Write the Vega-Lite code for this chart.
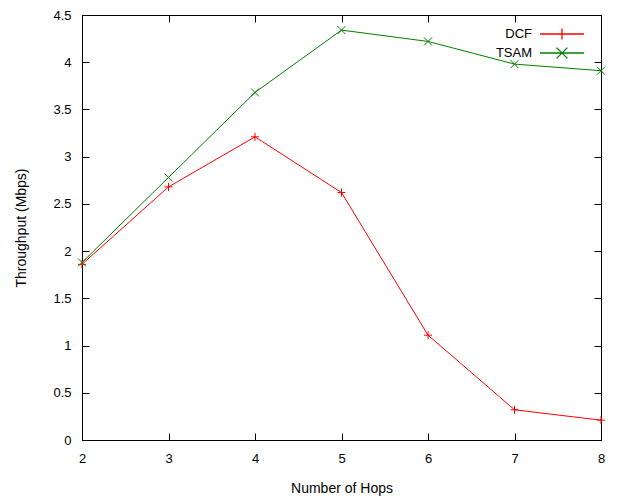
{
  "$schema": "https://vega.github.io/schema/vega-lite/v6.json",
  "autosize": {"type": "none"},
  "padding": {"left": 82, "top": 15, "right": 16, "bottom": 56},
  "width": 519,
  "height": 425,
  "background": "white",
  "config": {
    "font": "Liberation Sans",
    "view": {"stroke": "black", "strokeWidth": 1},
    "axis": {
      "grid": false,
      "domain": false,
      "tickColor": "black",
      "tickSize": -7,
      "labelFont": "Liberation Sans",
      "labelFontSize": 13,
      "labelColor": "black",
      "titleFont": "Liberation Sans",
      "titleFontSize": 14,
      "titleFontWeight": "normal",
      "titleColor": "black"
    }
  },
  "data": {
    "values": [
      {"hops": 2, "series": "DCF", "tp": 1.86},
      {"hops": 3, "series": "DCF", "tp": 2.68},
      {"hops": 4, "series": "DCF", "tp": 3.21},
      {"hops": 5, "series": "DCF", "tp": 2.62},
      {"hops": 6, "series": "DCF", "tp": 1.11},
      {"hops": 7, "series": "DCF", "tp": 0.32},
      {"hops": 8, "series": "DCF", "tp": 0.21},
      {"hops": 2, "series": "TSAM", "tp": 1.88},
      {"hops": 3, "series": "TSAM", "tp": 2.78},
      {"hops": 4, "series": "TSAM", "tp": 3.68},
      {"hops": 5, "series": "TSAM", "tp": 4.34},
      {"hops": 6, "series": "TSAM", "tp": 4.22},
      {"hops": 7, "series": "TSAM", "tp": 3.98},
      {"hops": 8, "series": "TSAM", "tp": 3.91}
    ]
  },
  "resolve": {"axis": {"x": "independent", "y": "independent"}},
  "layer": [
    {
      "mark": {"type": "line", "strokeWidth": 1},
      "encoding": {
        "x": {"field": "hops", "type": "quantitative",
              "scale": {"domain": [2, 8], "nice": false, "zero": false},
              "axis": {"orient": "bottom", "title": "Number of Hops", "values": [2,3,4,5,6,7,8], "format": "~g", "labelPadding": 19, "titlePadding": 16, "labelFlush": false}},
        "y": {"field": "tp", "type": "quantitative",
              "scale": {"domain": [0, 4.5], "nice": false},
              "axis": {"orient": "left", "title": "Throughput (Mbps)", "values": [0,0.5,1,1.5,2,2.5,3,3.5,4,4.5], "format": "~g", "labelPadding": 18, "titlePadding": 24, "labelFlush": false}},
        "color": {"field": "series", "type": "nominal",
                  "scale": {"domain": ["DCF", "TSAM"], "range": ["#ff0000", "#008000"]},
                  "legend": {
                    "orient": "none", "legendX": 470, "legendY": 9,
                    "title": null,
                    "symbolSize": 324,
                    "symbolFillColor": "transparent",
                    "labelAlign": "right",
                    "labelOffset": -40,
                    "labelFontSize": 13,
                    "labelColor": "black",
                    "rowPadding": 1,
                    "encode": {
                      "symbols": {
                        "update": {
                          "shape": {"signal": "datum.value === 'DCF' ? 'M-2.44,0H2.44M0,-0.6V0.6' : 'M-2.44,0H2.44M-0.6,-0.6L0.6,0.6M-0.6,0.6L0.6,-0.6'"},
                          "stroke": {"signal": "datum.value === 'DCF' ? '#ff0000' : '#008000'"},
                          "strokeWidth": {"value": 1.3},
                          "opacity": {"value": 1},
                          "fill": {"value": "transparent"}
                        }
                      }
                    }
                  }}
      }
    },
    {
      "transform": [{"filter": "datum.series === 'DCF'"}],
      "mark": {"type": "point", "filled": false, "size": 64, "strokeWidth": 1, "opacity": 1, "color": "#ff0000", "shape": "M-1,0H1M0,-1V1"},
      "encoding": {
        "x": {"field": "hops", "type": "quantitative",
              "axis": {"orient": "top", "title": null, "labels": false, "values": [2,3,4,5,6,7,8]}},
        "y": {"field": "tp", "type": "quantitative",
              "axis": {"orient": "right", "title": null, "labels": false, "values": [0,0.5,1,1.5,2,2.5,3,3.5,4,4.5]}}
      }
    },
    {
      "transform": [{"filter": "datum.series === 'TSAM'"}],
      "mark": {"type": "point", "filled": false, "size": 64, "strokeWidth": 1, "opacity": 1, "color": "#008000", "shape": "M-1,-1L1,1M-1,1L1,-1"},
      "encoding": {
        "x": {"field": "hops", "type": "quantitative", "axis": null},
        "y": {"field": "tp", "type": "quantitative", "axis": null}
      }
    }
  ]
}
